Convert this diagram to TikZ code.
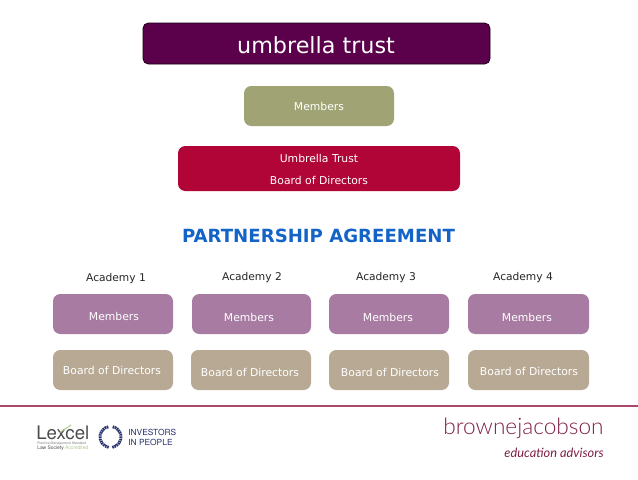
\documentclass[tikz,border=0pt]{standalone}
\usepackage{fontspec}
\setmainfont{DejaVu Sans}
\newfontfamily\lato{Lato Light}
\newfontfamily\latoi{Lato}
\newfontfamily\gyre{TeX Gyre Heros}
\definecolor{plum}{HTML}{5B004B}
\definecolor{olive}{HTML}{A0A474}
\definecolor{crimson}{HTML}{B10537}
\definecolor{mauve}{HTML}{A87BA3}
\definecolor{taupe}{HTML}{B8A994}
\definecolor{pblue}{HTML}{1464C8}
\definecolor{bjred}{HTML}{7E2048}
\definecolor{rulecol}{HTML}{A8486A}
\definecolor{navy}{HTML}{26306E}
\definecolor{lexgreen}{HTML}{A9C98A}
\tikzset{
  x=0.75pt,y=-0.75pt,
  boxbase/.style={rounded corners=5.5pt,inner sep=0pt,draw=none},
  lbl/.style={text=white,font=\fontsize{8.1}{9}\selectfont,inner sep=0pt},
  dark/.style={text=black!85,font=\fontsize{8}{9}\selectfont,inner sep=0pt},
}
\begin{document}
\begin{tikzpicture}
\useasboundingbox (0,0) rectangle (638,479);
\fill[white] (0,0) rectangle (638,479);
% top group
\path[boxbase,fill=plum,draw=black!70!plum,line width=.6pt,rounded corners=4pt] (143,23) rectangle (490,64);
\node[text=white,font=\fontsize{16.7}{18}\selectfont,inner sep=0pt] (title) at (316,45) {umbrella trust};
\path[boxbase,fill=olive] (244,86) rectangle (394,126);
\node[lbl] (um) at (319,106) {Members};
\path[boxbase,fill=crimson] (178,146) rectangle (460,191);
\node[lbl] (ut) at (319,158) {Umbrella Trust};
\node[lbl] (ub) at (319,180) {Board of Directors};
% heading
\node[text=pblue,font=\fontsize{13.6}{16}\bfseries\selectfont,inner sep=0pt] (pa) at (318.5,236) {PARTNERSHIP AGREEMENT};
% academy labels
\node[dark] (a1) at (116,279) {Academy 1};
\node[dark] (a2) at (252,278) {Academy 2};
\node[dark] (a3) at (386,278) {Academy 3};
\node[dark] (a4) at (523,278) {Academy 4};
% academy boxes
\path[boxbase,fill=mauve] (53,294) rectangle (173,334);
\path[boxbase,fill=mauve] (192,294) rectangle (311,334);
\path[boxbase,fill=mauve] (329,294) rectangle (449,334);
\path[boxbase,fill=mauve] (468,294) rectangle (589,334);
\path[boxbase,fill=taupe] (53,350) rectangle (173,390);
\path[boxbase,fill=taupe] (191,350) rectangle (311,390);
\path[boxbase,fill=taupe] (329,350) rectangle (449,390);
\path[boxbase,fill=taupe] (468,350) rectangle (589,390);
\node[lbl] (m1) at (114,316) {Members};
\node[lbl] (m2) at (249,317) {Members};
\node[lbl] (m3) at (388,317) {Members};
\node[lbl] (m4) at (527,317) {Members};
\node[lbl] (b1) at (112,370) {Board of Directors};
\node[lbl] (b2) at (250,372) {Board of Directors};
\node[lbl] (b3) at (390,372) {Board of Directors};
\node[lbl] (b4) at (529,371) {Board of Directors};
% rule
\fill[rulecol] (0,404.6) rectangle (638,406.6);
% Lexcel logo
\node[anchor=base west,inner sep=0pt,text=black!70,font=\gyre\fontsize{14}{15}\selectfont] (lex) at (36,439) {Lexcel};
\draw[lexgreen,line width=.7pt] (59,433) -- (71,425);
\node[anchor=base west,inner sep=0pt,text=black!50,font=\gyre\fontsize{2.6}{3}\selectfont] (lex2) at (37,444) {Practice Management Standard};
\node[anchor=base west,inner sep=0pt,text=black!70,font=\gyre\fontsize{3.7}{4}\selectfont] (lex3) at (37,449.5) {Law Society \textcolor{lexgreen}{Accredited}};
% Investors wreath
\draw[navy,line width=2.2pt,dash pattern=on 1.2pt off .5pt] (110.5,437) ++(100:10.5) arc[start angle=100,end angle=260,radius=10.5];
\draw[navy,line width=2.2pt,dash pattern=on 1.2pt off .5pt] (110.5,437) ++(80:10.5) arc[start angle=80,end angle=-80,radius=10.5];
\node[anchor=west,inner sep=0pt,text=navy,font=\gyre\fontsize{6.3}{7.4}\selectfont,align=left] (iip) at (128,437.5) {INVESTORS\\IN PEOPLE};
% brownejacobson logo
\node[anchor=base west,inner sep=0pt,text=bjred,font=\lato\fontsize{17}{18}\selectfont] (bj) at (443,434) {brownejacobson};
\node[anchor=east,inner sep=0pt,text=bjred,font=\latoi\itshape\fontsize{9.6}{10}\selectfont] (ea) at (604,453) {education advisors};
\end{tikzpicture}
\end{document}
